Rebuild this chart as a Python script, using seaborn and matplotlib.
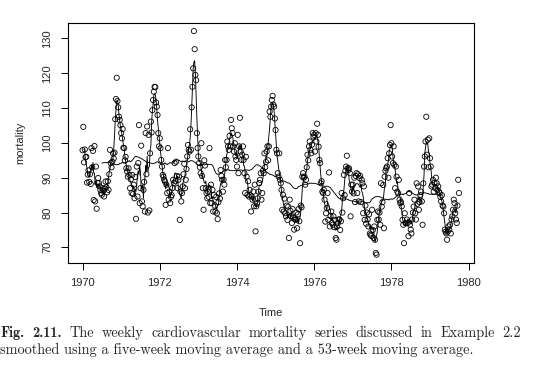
import numpy as np
import pandas as pd
import matplotlib
matplotlib.use("Agg")
import matplotlib.pyplot as plt
import seaborn as sns

# ---- data: weekly cardiovascular mortality ----
mort_1970 = [97.9, 104.6, 94.4, 98.1, 95.9,
             96.0, 88.6, 90.9, 92.1, 88.8, 91.0, 88.2,
             98.5, 93.0, 97.7, 83.6, 99.1, 83.2, 93.2, 81.1, 88.5,
             89.9, 88.5, 87.5, 86.5, 85.6, 85.1, 87.0, 86.2, 84.6, 86.9, 88.9, 87.3, 85.8, 89.0, 86.5, 91.0,
             98.0, 94.2, 93.0, 94.6, 97.0, 95.5, 97.2, 106.8,
             112.6, 118.7, 112.0, 110.2, 107.5, 106.6, 105.1]
mort_1971 = [102.8, 101.3, 104.0, 98.6, 98.5, 95.0, 96.0,
             92.7, 91.8, 90.3, 92.7, 90.8, 87.0, 89.5, 85.6,
             90.8, 85.3, 88.0, 84.1, 90.2, 78.2, 93.2, 84.6, 94.2,
             105.1, 82.7, 87.0, 99.2, 83.2, 81.8, 86.5, 88.8,
             80.3, 102.8, 91.0, 104.7, 80.0, 102.3, 80.6, 97.0,
             106.1, 103.0, 109.4, 112.3, 114.7, 116.1, 116.0, 111.6, 110.4, 108.0, 102.8, 99.0]
mort_1972 = [101.3, 98.5, 95.1, 93.2, 90.8, 90.3, 89.4, 88.9, 82.2,
             88.0, 85.6, 98.5, 83.7, 86.0, 82.7, 84.5, 85.0, 87.0,
             89.4, 88.5, 94.2, 89.0, 94.6, 90.5, 87.0, 89.4, 90.3, 77.9, 86.0,
             83.2, 85.6, 87.5, 91.0, 94.0, 87.0, 89.4, 92.5, 96.1, 99.4, 98.0,
             97.5, 103.9, 98.0, 110.2, 116.1, 121.4, 132.1, 126.9, 119.5, 118.0, 102.8, 98.5]
mort_1973 = [96.1, 94.2, 93.0, 91.3, 99.9, 90.5, 87.0, 80.8,
             95.0, 93.5, 87.0, 85.6, 84.1, 86.0, 84.5, 98.5, 82.7, 88.0,
             82.7, 86.5, 80.3, 85.0, 82.0, 80.3, 84.5, 79.8, 78.1, 83.0,
             85.5, 84.0, 92.2, 90.5, 89.4, 86.0, 89.4, 88.0, 95.1, 93.0,
             95.1, 100.4, 99.0, 98.0, 102.0, 99.0, 106.6, 104.2, 102.8, 99.0, 97.5, 99.9, 96.1, 95.1]
mort_1974 = [93.2, 102.3, 91.3, 99.0, 107.2, 97.5, 95.1, 96.6,
             99.0, 95.1, 91.3, 85.6, 96.0, 90.3, 85.1, 89.0, 84.6,
             86.5, 85.0, 80.3, 84.6, 83.7, 86.0, 81.8, 88.0, 74.6,
             81.8, 82.5, 84.1, 86.0, 88.5, 89.4, 91.3, 83.7, 85.6, 92.0,
             91.3, 97.0, 93.0, 94.5, 97.5, 99.0, 95.0, 99.0,
             109.0, 107.5, 110.4, 112.3, 113.5, 111.0, 110.4, 107.0]
mort_1975 = [103.7, 98.0, 97.0, 91.3, 90.3, 97.0, 89.4,
             88.4, 86.5, 80.8, 85.1, 80.3, 84.0, 79.8, 78.9, 82.0,
             77.9, 81.7, 72.7, 83.7, 80.5, 79.0, 77.0, 81.0, 78.5, 75.1,
             78.0, 77.9, 80.0, 75.5, 79.5, 81.0, 77.5, 71.2, 82.0, 81.5, 90.3,
             91.3, 90.0, 90.3, 88.0, 89.4, 93.0, 96.6, 95.0, 99.0, 100.4, 98.0, 97.0, 99.5, 102.8, 101.8]
mort_1976 = [102.3, 97.5, 102.8, 100.4, 105.5, 102.3, 98.9, 95.1, 94.2, 88.4,
             89.0, 86.0, 85.6, 86.5, 83.7, 77.4, 79.8, 81.3, 85.6, 77.9,
             91.5, 76.0, 79.0, 80.3, 77.0, 76.5, 78.9, 75.8, 77.9, 72.7,
             72.2, 76.0, 77.0, 78.0, 78.0, 75.0, 77.5, 85.6, 80.0, 84.1,
             90.8, 85.0, 92.0, 93.2, 96.3, 92.7, 92.2, 92.7, 91.3, 78.9, 88.0, 86.0]
mort_1977 = [88.0, 85.5, 90.0, 83.0, 90.5, 91.3, 85.6, 91.0, 83.2, 89.9,
             90.5, 83.0, 89.4, 88.4, 79.8, 87.5, 77.9, 82.0, 76.8, 80.0,
             78.0, 76.0, 79.5, 74.0, 73.6, 73.3, 80.8, 75.0, 72.7, 76.0,
             72.2, 68.4, 67.9, 77.9, 80.3, 78.0, 80.0, 76.5, 88.4, 81.7, 83.0, 87.9,
             75.5, 90.3, 92.0, 92.7, 93.2, 95.6, 90.0, 97.0, 99.4, 105.1]
mort_1978 = [99.9, 96.1, 94.2, 99.0, 93.7, 87.0, 93.2, 90.3, 86.0, 85.5,
             89.4, 83.7, 82.7, 83.0, 81.8, 77.9, 76.5, 71.2, 79.8, 77.0,
             76.9, 78.0, 77.0, 73.2, 85.6, 76.5, 75.1, 74.0, 78.0, 80.0,
             81.7, 83.7, 79.8, 78.0, 88.4, 82.5, 87.5, 80.8, 83.0, 85.0,
             86.0, 83.2, 76.5, 88.4, 93.2, 96.1, 100.4, 107.5, 96.6, 100.9, 93.0, 101.3]
mort_1979 = [95.6, 93.2, 87.5, 88.0, 89.4, 86.0, 88.5, 87.0, 90.0, 88.4,
             86.5, 87.5, 86.0, 85.6, 84.5, 83.2, 85.0, 82.0, 81.7, 79.8,
             75.1, 74.5, 74.0, 72.2, 74.5, 76.0, 75.1, 76.5, 74.0, 78.0,
             78.9, 80.8, 83.7, 82.7, 79.8, 78.0, 77.0, 82.0, 89.4, 85.6]

start_year = 1970
freq = 52
x_ticks = [1970, 1972, 1974, 1976, 1978, 1980]
y_ticks = [70, 80, 90, 100, 110, 120, 130]

mort = np.array(mort_1970 + mort_1971 + mort_1972 + mort_1973 + mort_1974 +
                mort_1975 + mort_1976 + mort_1977 + mort_1978 + mort_1979)
time = start_year + np.arange(len(mort)) / freq
df = pd.DataFrame({"Time": time, "mortality": mort})
df["ma5"] = df["mortality"].rolling(5, center=True).mean()
df["ma53"] = df["mortality"].rolling(53, center=True).mean()

# ---- figure ----
sns.set_style("white")
plt.rcParams["font.family"] = ["Liberation Sans", "DejaVu Sans"]

W, H = 536, 369
fig = plt.figure(figsize=(W / 100, H / 100), dpi=100)
ax = fig.add_axes([67.5 / W, 1 - 262.7 / H, (474 - 67.5) / W, (262.7 - 22.7) / H])

sns.scatterplot(data=df, x="Time", y="mortality", ax=ax, marker="o",
                s=14, facecolor="none", edgecolor="black", linewidth=0.6, legend=False)
d5 = df.dropna(subset=["ma5"])
d53 = df.dropna(subset=["ma53"])
sns.lineplot(data=d5, x="Time", y="ma5", ax=ax, color="black", lw=0.65,
             estimator=None, sort=False)
sns.lineplot(data=d53, x="Time", y="ma53", ax=ax, color="black", lw=0.65,
             estimator=None, sort=False)

ax.set_xlim(1969.61, 1980.14)
ax.set_ylim(65.6, 134.5)
ax.set_xticks(x_ticks)
ax.set_yticks(y_ticks)
ax.set_xticklabels([str(v) for v in x_ticks], fontsize=8)
ax.set_yticklabels([str(v) for v in y_ticks], fontsize=8, rotation=90, va="center")
ax.tick_params(axis="both", direction="out", length=5, width=0.7, color="black",
               pad=6, bottom=True, left=True)
for sp in ax.spines.values():
    sp.set_visible(True)
    sp.set_color("black")
    sp.set_linewidth(0.8)
ax.set_xlabel("")
ax.set_ylabel("")
fig.text(20 / W, 1 - 143 / H, "mortality", rotation=90, fontsize=8,
         ha="center", va="center")
fig.text(271 / W, 1 - 313 / H, "Time", fontsize=8, ha="center", va="center")

# ---- caption (justified first line) ----
fig.canvas.draw()
renderer = fig.canvas.get_renderer()
cap_size = 10.3
line1 = [("Fig.", "cmb10"), ("2.11.", "cmb10")] + \
        [(w, "cmr10") for w in "The weekly cardiovascular mortality series discussed in Example 2.2".split()]
x_left, x_right = 0.5, 521.0
widths = []
objs = []
for word, fam in line1:
    t = fig.text(0, 0, word, fontsize=cap_size, family=fam)
    widths.append(t.get_window_extent(renderer).width)
    objs.append(t)
gap = (x_right - x_left - sum(widths)) / (len(line1) - 1)
xpos = x_left
y1 = 1 - 337 / H
for t, w in zip(objs, widths):
    t.set_position((xpos / W, y1))
    xpos += w + gap

fig.text(0.5 / W, 1 - 354 / H,
         "smoothed using a five-week moving average and a 53-week moving average.",
         fontsize=cap_size, family="cmr10")

fig.savefig("out.png", dpi=100)
